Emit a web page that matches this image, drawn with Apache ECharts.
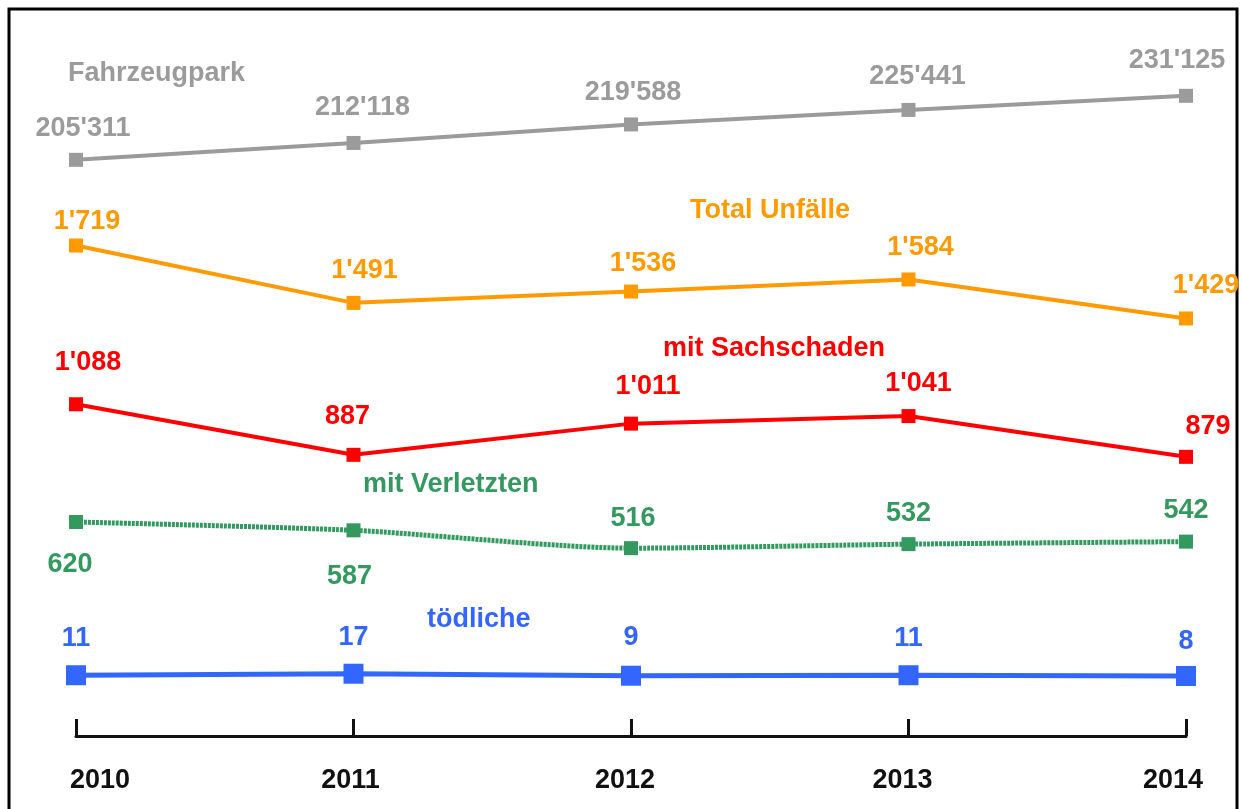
<!DOCTYPE html>
<html>
<head>
<meta charset="utf-8">
<title>Fahrzeugpark und Unfälle 2010-2014</title>
<script src="https://cdn.jsdelivr.net/npm/echarts@6/dist/echarts.min.js"></script>
<style>
    html, body { margin: 0; padding: 0; background: #fff; }
    #chart { width: 1241px; height: 809px; }
</style>
</head>
<body>
<div id="chart"></div>
<script>
// Data
var years = ['2010', '2011', '2012', '2013', '2014'];
var fahrzeugpark = [205311, 212118, 219588, 225441, 231125];
var totalUnfaelle = [1719, 1491, 1536, 1584, 1429];
var sachschaden = [1088, 887, 1011, 1041, 879];
var verletzte = [620, 587, 516, 532, 542];
var toedliche = [11, 17, 9, 11, 8];

var seriesNames = ['Fahrzeugpark', 'Total Unfälle', 'mit Sachschaden', 'mit Verletzten', 'tödliche'];

// Styling only
var FONT = 'Liberation Sans, Arial, sans-serif';
var colors = ['#9b9b9b', '#ff9a00', '#ff0000', '#33995f', '#3366ff'];
// value label offsets from each point (px)
var labelOffsets = [
    [[7, -31], [9, -35], [2, -32], [9, -33], [-9, -35]],
    [[11, -24], [11, -32], [12, -28], [12, -32], [20, -33]],
    [[12, -42], [-6, -38], [17, -37], [10, -33], [22, -30]],
    [[-6, 43], [-4, 46], [2, -30], [0, -31], [0, -31]],
    [[0, -37], [0, -36], [0, -38], [0, -37], [0, -34]]
];
// series name label positions (left, middle y)
var namePos = [[68, 72], [690, 209], [663, 347], [363, 483], [427, 618]];
// shift of year labels relative to their tick
var yearShift = [24, -3, -6, -6, -13];

function fmt(v) {
    return String(v).replace(/\B(?=(\d{3})+(?!\d))/g, "'");
}

function buildSeries(idx, values, yAxisIndex, opts) {
    return {
        name: seriesNames[idx],
        type: 'line',
        yAxisIndex: yAxisIndex,
        symbol: 'rect',
        symbolSize: opts.symbolSize,
        smooth: opts.smooth || false,
        color: colors[idx],
        lineStyle: { color: colors[idx], width: opts.width, type: opts.type || 'solid' },
        itemStyle: { color: colors[idx] },
        animation: false,
        data: values.map(function(v, i) {
            return {
                value: v,
                label: { offset: labelOffsets[idx][i] }
            };
        }),
        label: {
            show: true,
            position: 'inside',
            color: colors[idx],
            fontFamily: FONT,
            fontWeight: 'bold',
            fontSize: 27,
            formatter: function(p) { return fmt(p.value); }
        }
    };
}

var chart = echarts.init(document.getElementById('chart'));

var yearRich = {};
yearShift.forEach(function(s, i) {
    yearRich['y' + i] = {
        fontFamily: FONT,
        fontWeight: 'bold',
        fontSize: 27,
        color: '#111',
        padding: s >= 0 ? [0, 0, 0, 2 * s] : [0, -2 * s, 0, 0]
    };
});

var option = {
    backgroundColor: '#fff',
    animation: false,
    grid: { left: 76, right: 55, top: 49, bottom: 131 },
    xAxis: {
        type: 'category',
        data: years,
        boundaryGap: false,
        offset: 58,
        axisLine: { show: true, onZero: false, lineStyle: { color: '#111', width: 3 } },
        axisTick: { show: true, inside: true, length: 17, alignWithLabel: true, lineStyle: { color: '#111', width: 3 } },
        splitLine: { show: false },
        axisLabel: {
            margin: 31,
            formatter: function(v, i) { return '{y' + i + '|' + v + '}'; },
            rich: yearRich
        }
    },
    yAxis: [
        { type: 'value', min: 0, max: 2500, show: false, splitLine: { show: false } },
        { type: 'value', min: -3600, max: 250000, show: false, splitLine: { show: false } }
    ],
    graphic: [{
        type: 'rect',
        shape: { x: 9, y: 9, width: 1228, height: 820 },
        style: { fill: 'none', stroke: '#000', lineWidth: 3 },
        silent: true
    }].concat(seriesNames.map(function(n, i) {
        return {
            type: 'text',
            left: namePos[i][0],
            top: namePos[i][1] - 12,
            style: {
                text: n,
                fill: colors[i],
                font: 'bold 27px ' + FONT
            },
            silent: true
        };
    })),
    series: [
        buildSeries(0, fahrzeugpark, 1, { symbolSize: 14, width: 4 }),
        buildSeries(1, totalUnfaelle, 0, { symbolSize: 14, width: 4 }),
        buildSeries(2, sachschaden, 0, { symbolSize: 14, width: 4 }),
        buildSeries(3, verletzte, 0, { symbolSize: 14, width: 5, type: [3, 1], smooth: 0.25 }),
        buildSeries(4, toedliche, 0, { symbolSize: 20, width: 5 })
    ]
};

chart.setOption(option);
</script>
</body>
</html>
